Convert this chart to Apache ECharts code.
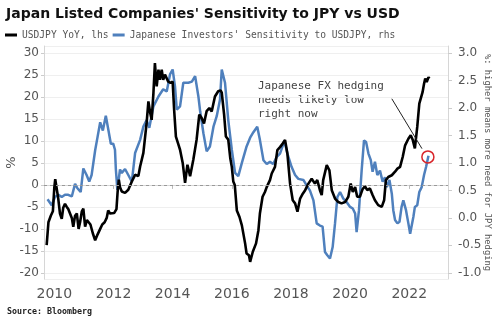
<!DOCTYPE html>
<html>
<head>
<meta charset="utf-8">
<script src="https://cdn.jsdelivr.net/npm/echarts@6/dist/echarts.min.js"></script>
<style>
html,body{margin:0;padding:0;background:#fff;}
#chart{width:500px;height:322px;}
</style>
</head>
<body>
<div id="chart"></div>
<script>
// USDJPY YoY (%), left axis: [decimal year, value]
const usdjpyYoY = [
[2009.74,-13.7],[2009.80,-8.5],[2009.88,-7.0],[2009.95,-6.0],[2010.00,-0.5],[2010.03,1.3],[2010.08,1.0],[2010.13,-3.0],
[2010.19,-6.5],[2010.25,-7.7],[2010.30,-5.2],[2010.36,-4.3],[2010.42,-5.0],[2010.47,-5.5],[2010.53,-6.5],[2010.59,-7.5],
[2010.64,-9.5],[2010.70,-7.0],[2010.76,-6.5],[2010.82,-10.0],[2010.87,-8.5],[2010.93,-6.0],[2010.98,-5.4],[2011.04,-9.5],
[2011.10,-8.0],[2011.16,-8.5],[2011.22,-9.0],[2011.30,-11.0],[2011.38,-12.6],[2011.46,-11.3],[2011.55,-10.0],[2011.62,-9.0],
[2011.70,-8.5],[2011.77,-7.5],[2011.82,-5.8],[2011.88,-6.5],[2011.94,-6.8],[2012.02,-6.4],[2012.10,-5.5],[2012.14,-1.5],
[2012.18,1.2],[2012.22,-0.5],[2012.28,-1.5],[2012.39,-1.8],[2012.50,-1.1],[2012.62,0.8],[2012.73,2.3],[2012.84,2.0],
[2012.90,4.2],[2013.01,7.3],[2013.12,14.1],[2013.18,19.0],[2013.24,16.4],[2013.29,14.8],[2013.35,20.9],[2013.40,27.7],
[2013.46,22.4],[2013.52,26.2],[2013.57,23.9],[2013.63,26.2],[2013.68,23.9],[2013.74,25.1],[2013.80,24.7],[2013.85,23.5],
[2013.93,23.2],[2014.00,23.5],[2014.05,17.1],[2014.11,11.0],[2014.18,9.5],[2014.25,8.0],[2014.34,5.0],[2014.42,0.5],
[2014.50,4.6],[2014.59,2.0],[2014.70,5.8],[2014.81,10.3],[2014.90,16.0],[2014.98,15.2],[2015.06,14.0],[2015.15,16.8],
[2015.24,17.5],[2015.32,16.7],[2015.43,20.1],[2015.54,21.3],[2015.62,21.5],[2015.66,21.0],[2015.74,16.0],[2015.80,11.0],
[2015.88,10.3],[2015.95,6.0],[2016.00,4.1],[2016.05,0.8],[2016.10,0.0],[2016.17,-5.8],[2016.26,-7.3],[2016.34,-9.2],
[2016.45,-13.3],[2016.50,-15.6],[2016.58,-16.0],[2016.62,-17.5],[2016.71,-15.2],[2016.82,-13.3],[2016.90,-10.3],[2016.95,-6.5],
[2017.04,-2.7],[2017.12,-1.6],[2017.18,-0.5],[2017.29,1.1],[2017.35,2.6],[2017.46,4.1],[2017.54,7.9],[2017.63,8.6],
[2017.72,9.4],[2017.80,10.2],[2017.88,7.1],[2017.97,0.3],[2018.06,-3.5],[2018.14,-4.2],[2018.22,-6.1],[2018.31,-3.1],
[2018.40,-2.0],[2018.48,-1.2],[2018.59,0.3],[2018.70,1.4],[2018.81,0.3],[2018.89,1.1],[2018.98,-1.2],[2019.04,-2.3],
[2019.09,1.1],[2019.21,4.5],[2019.30,3.3],[2019.38,-1.2],[2019.49,-3.1],[2019.60,-3.9],[2019.71,-4.2],[2019.83,-3.9],
[2019.94,-2.7],[2020.02,0.3],[2020.09,-1.6],[2020.17,-0.5],[2020.24,-2.7],[2020.33,-2.7],[2020.42,-1.0],[2020.50,-0.3],
[2020.58,-1.2],[2020.67,-0.8],[2020.76,-2.3],[2020.84,-3.5],[2020.95,-4.6],[2021.07,-5.0],[2021.15,-3.5],[2021.21,1.1],
[2021.29,1.8],[2021.41,2.2],[2021.52,3.0],[2021.60,3.7],[2021.69,4.1],[2021.78,6.4],[2021.86,9.0],[2021.97,10.5],
[2022.05,11.3],[2022.12,10.2],[2022.19,8.3],[2022.27,13.2],[2022.34,18.5],[2022.40,18.9],[2022.45,21.1],[2022.50,23.0],
[2022.54,24.2],[2022.59,23.4],[2022.65,24.5],[2022.68,24.2]
];

// Japanese investors' sensitivity to USDJPY, right axis: [decimal year, value]
const investorSensitivity = [
[2009.77,0.34],[2009.91,0.23],[2010.02,0.38],[2010.14,0.42],[2010.25,0.38],[2010.36,0.42],[2010.47,0.42],[2010.59,0.39],
[2010.70,0.62],[2010.78,0.54],[2010.89,0.47],[2010.98,0.90],[2011.09,0.78],[2011.18,0.66],[2011.26,0.78],[2011.38,1.23],
[2011.46,1.47],[2011.55,1.74],[2011.64,1.59],[2011.74,1.86],[2011.83,1.59],[2011.91,1.35],[2011.99,1.35],[2012.05,1.24],
[2012.08,0.88],[2012.13,0.51],[2012.22,0.88],[2012.28,0.82],[2012.39,0.89],[2012.50,0.78],[2012.62,0.66],[2012.73,1.18],
[2012.90,1.42],[2013.01,1.66],[2013.12,1.78],[2013.21,1.64],[2013.35,2.03],[2013.52,2.21],[2013.68,2.34],[2013.80,2.30],
[2013.91,2.61],[2014.00,2.70],[2014.08,2.39],[2014.14,1.97],[2014.25,2.03],[2014.36,2.46],[2014.53,2.46],[2014.65,2.48],
[2014.76,2.58],[2014.87,2.21],[2014.93,1.94],[2015.04,1.54],[2015.15,1.21],[2015.26,1.30],[2015.38,1.66],[2015.49,1.85],
[2015.60,2.15],[2015.66,2.70],[2015.77,2.46],[2015.88,1.78],[2016.00,1.24],[2016.11,0.82],[2016.22,0.76],[2016.34,1.00],
[2016.50,1.30],[2016.62,1.46],[2016.73,1.56],[2016.86,1.66],[2016.95,1.42],[2017.07,1.05],[2017.18,0.98],[2017.29,1.02],
[2017.40,0.98],[2017.52,1.11],[2017.63,1.17],[2017.78,1.40],[2017.88,1.17],[2018.02,0.93],[2018.14,0.78],[2018.25,0.71],
[2018.42,0.69],[2018.53,0.59],[2018.64,0.50],[2018.76,0.32],[2018.87,-0.10],[2018.98,-0.14],[2019.07,-0.16],[2019.15,-0.62],
[2019.23,-0.68],[2019.32,-0.74],[2019.41,-0.53],[2019.49,-0.10],[2019.57,0.38],[2019.66,0.47],[2019.77,0.35],[2019.88,0.29],
[2020.00,0.20],[2020.09,0.17],[2020.17,0.08],[2020.22,-0.26],[2020.30,0.14],[2020.39,0.86],[2020.47,1.41],[2020.54,1.38],
[2020.62,1.17],[2020.70,1.05],[2020.76,0.84],[2020.84,1.02],[2020.92,0.78],[2021.01,0.86],[2021.10,0.66],[2021.18,0.74],
[2021.24,0.56],[2021.33,0.69],[2021.41,0.44],[2021.46,0.14],[2021.52,-0.04],[2021.60,-0.10],[2021.67,-0.07],[2021.74,0.20],
[2021.80,0.32],[2021.89,0.14],[2021.97,-0.10],[2022.03,-0.29],[2022.08,-0.32],[2022.14,0.02],[2022.19,0.20],[2022.27,0.23],
[2022.34,0.47],[2022.42,0.56],[2022.50,0.78],[2022.57,0.93],[2022.65,1.13]
];

const seriesNames = ['USDJPY YoY, lhs', "Japanese Investors' Sensitivity to USDJPY, rhs"];
const titleText = "Japan Listed Companies' Sensitivity to JPY vs USD";
const annotationText = 'Japanese FX hedging\nneeds likely low\nright now';
const annotationLine = [[2021.41, 19.6], [2022.43, 8.25]];
const circlePoint = [2022.63, 1.11];
const sourceText = 'Source: Bloomberg';

const chart = echarts.init(document.getElementById('chart'), null, {renderer: 'canvas'});
const axisGray = '#d6d6d6';
const labelGray = '#555';
const mono = "'DejaVu Sans Mono', monospace";

chart.setOption({
  animation: false,
  backgroundColor: '#fff',
  title: {
    text: titleText, left: 1, top: 2,
    textStyle: {fontFamily: 'DejaVu Sans', fontWeight: 'bold', fontSize: 14, color: '#111'}
  },
  legend: {
    left: 0, top: 25, itemWidth: 12, itemHeight: 3, itemGap: 4, icon: 'rect',
    textStyle: {fontFamily: mono, fontSize: 9.6, color: labelGray},
    data: seriesNames
  },
  grid: {left: 44, right: 52, top: 46, bottom: 43, containLabel: false, outerBoundsMode: 'none'},
  xAxis: {
    type: 'value', min: 2009.65, max: 2023.31, splitNumber: 7,
    axisLine: {show: true, lineStyle: {color: axisGray}},
    axisTick: {show: true, length: 4, lineStyle: {color: '#bbb'}},
    splitLine: {show: false},
    axisLabel: {showMinLabel: false, showMaxLabel: false, margin: 8,
      fontFamily: 'DejaVu Sans', fontSize: 14, color: labelGray,
      formatter: v => (Math.abs(v - Math.round(v)) < 1e-6 ? String(Math.round(v)) : '')}
  },
  yAxis: [{
    type: 'value', min: -21.4, max: 31.6, splitNumber: 10, position: 'left',
    name: '%', nameLocation: 'middle', nameGap: 26, nameRotate: 90, nameMoveOverlap: false,
    nameTextStyle: {fontFamily: 'DejaVu Sans', fontSize: 13, color: labelGray},
    axisLine: {show: true, lineStyle: {color: axisGray}},
    axisTick: {show: true, length: 3, lineStyle: {color: '#ccc'}},
    splitLine: {show: true, lineStyle: {color: '#efefef', width: 1}},
    axisLabel: {showMinLabel: false, showMaxLabel: false, margin: 5,
      fontFamily: 'DejaVu Sans', fontSize: 12, color: labelGray,
      formatter: v => (Math.abs(v / 5 - Math.round(v / 5)) < 1e-6 ? String(Math.round(v)) : '')}
  }, {
    type: 'value', min: -1.112, max: 3.128, splitNumber: 8, position: 'right',
    name: '%: higher means more need for JPY hedging', nameLocation: 'middle', nameGap: 35, nameRotate: -90, nameMoveOverlap: false,
    nameTextStyle: {fontFamily: mono, fontSize: 8.8, color: labelGray},
    axisLine: {show: true, lineStyle: {color: axisGray}},
    axisTick: {show: true, length: 4, lineStyle: {color: '#ccc'}},
    splitLine: {show: false},
    axisLabel: {showMinLabel: false, showMaxLabel: false, margin: 10,
      fontFamily: 'DejaVu Sans', fontSize: 12, color: labelGray,
      formatter: v => (Math.abs(v * 2 - Math.round(v * 2)) < 1e-6 ? v.toFixed(1) : '')}
  }],
  series: [{
    name: seriesNames[0], type: 'line', yAxisIndex: 0, data: usdjpyYoY,
    showSymbol: false, symbol: 'none', z: 3,
    lineStyle: {color: '#000', width: 2.6}, itemStyle: {color: '#000'},
    markLine: {
      silent: true, symbol: 'none', label: {show: false},
      data: [
        {yAxis: 0, lineStyle: {color: '#999', type: [3, 3], width: 1}},
        [{coord: annotationLine[0], lineStyle: {color: '#222', type: 'solid', width: 1}}, {coord: annotationLine[1]}]
      ]
    }
  }, {
    name: seriesNames[1], type: 'line', yAxisIndex: 1, data: investorSensitivity,
    showSymbol: false, symbol: 'none', z: 2,
    lineStyle: {color: '#4f80bd', width: 2.5}, itemStyle: {color: '#4f80bd'},
    markPoint: {
      silent: true, symbol: 'circle', symbolSize: 12, label: {show: false},
      itemStyle: {color: 'rgba(0,0,0,0)', borderColor: '#d9262b', borderWidth: 1.5},
      data: [{coord: circlePoint}]
    }
  }],
  graphic: [{
    type: 'text', left: 258, top: 79,
    style: {text: annotationText, font: "11px 'DejaVu Sans Mono', monospace", fill: '#444', align: 'center', lineHeight: 14, width: 132}
  }, {
    type: 'text', left: 7, top: 308,
    style: {text: sourceText, font: "bold 8.3px 'DejaVu Sans Mono', monospace", fill: '#222'}
  }]
});
</script>
</body>
</html>
